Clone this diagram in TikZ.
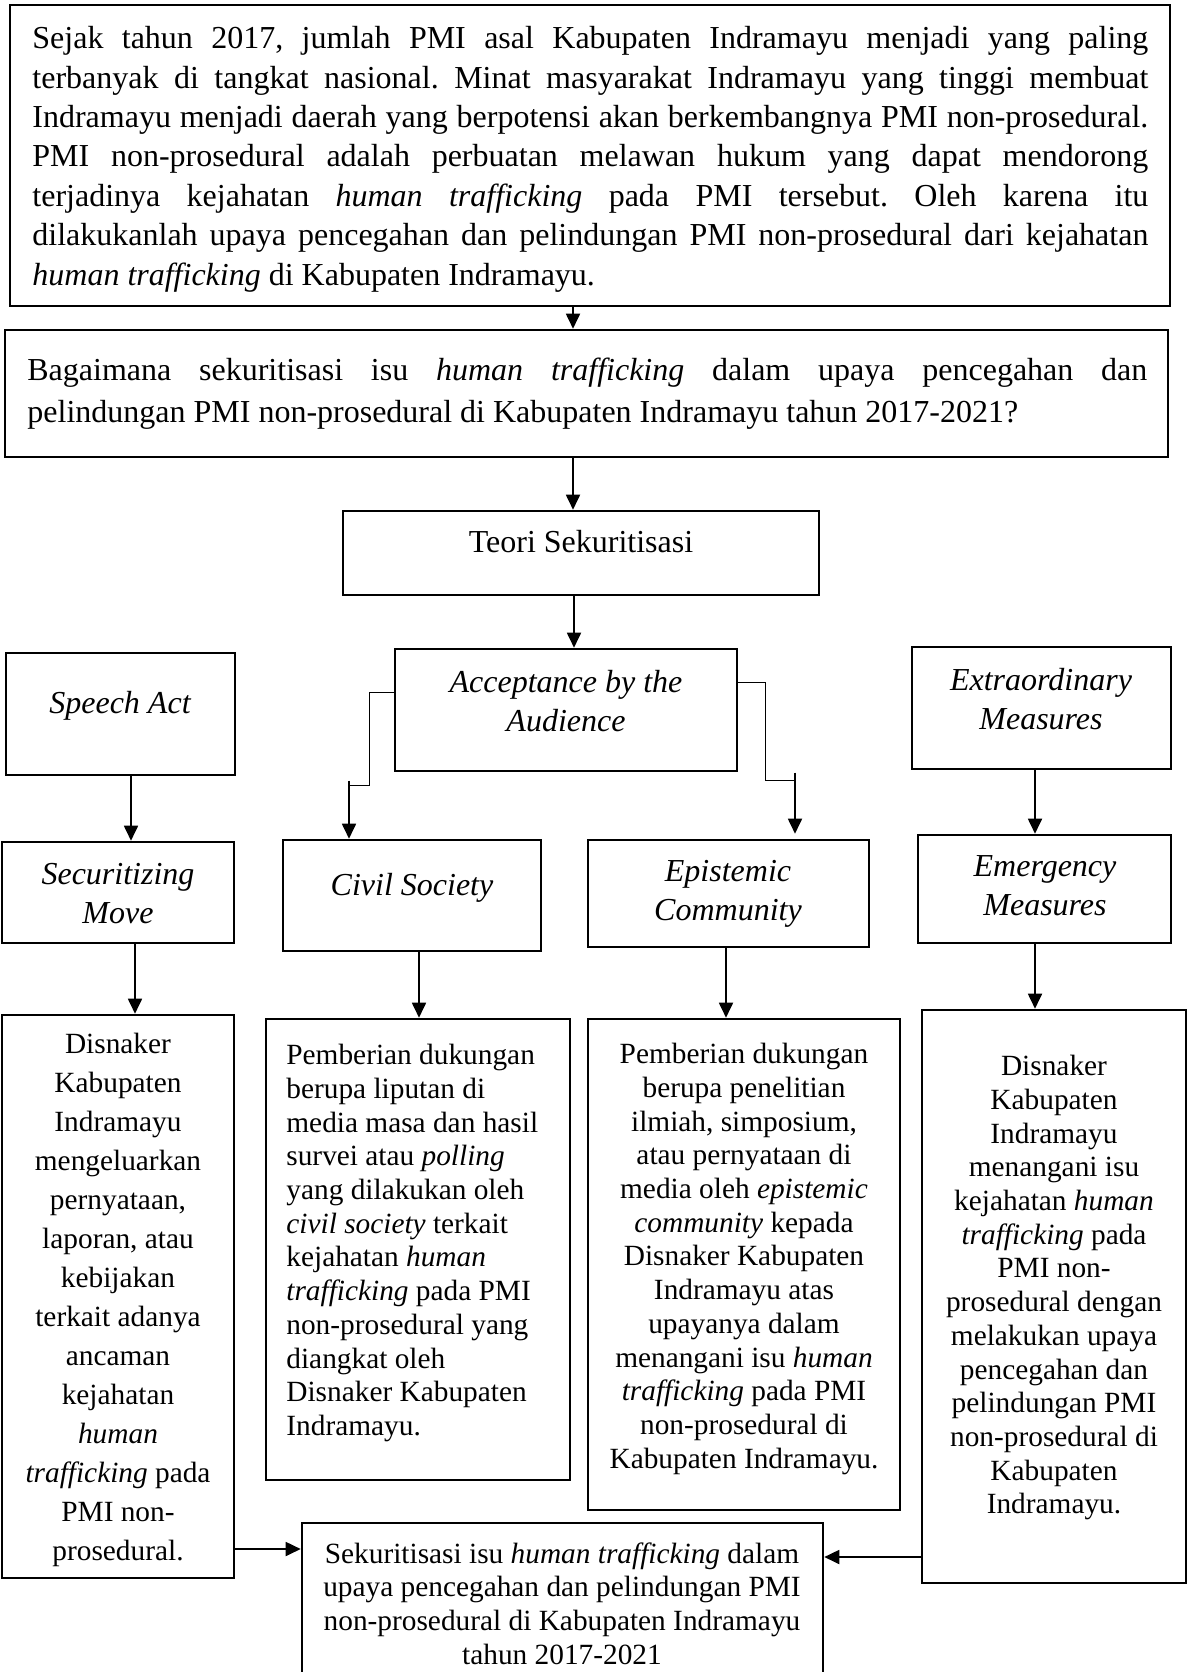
\documentclass[tikz,border=0pt]{standalone}
\usepackage{fontspec}
\setmainfont{Liberation Serif}
\usetikzlibrary{fit,arrows.meta}
\newcommand\jl[1]{\makebox[558pt][s]{#1}}
\newcommand\jlb[1]{\makebox[560pt][s]{#1}}
\frenchspacing
\begin{document}
\begin{tikzpicture}[x=0.5pt,y=-0.5pt,
  bx/.style={draw, line width=1.3pt, inner sep=0pt},
  arr/.style={line width=0.9pt, -{Triangle[length=7.5pt,width=7pt]}},
  thinl/.style={line width=0.45pt},
  T/.style={inner sep=0pt, font=\fontsize{16}{19.7}\selectfont},
  TB/.style={inner sep=0pt, font=\fontsize{16}{20.85}\selectfont},
  TI/.style={inner sep=0pt, font=\fontsize{16}{19.5}\selectfont\itshape},
  SL/.style={inner sep=0pt, font=\fontsize{14.67}{19.5}\selectfont},
  S/.style={inner sep=0pt, font=\fontsize{14.67}{16.85}\selectfont},
]
\clip (0,0) rectangle (1194,1672);
\fill[white] (0,0) rectangle (1194,1672);

% boxes
\node[bx, fit={(10,5) (1170,306)}] (b1) {};
\node[bx, fit={(5,330) (1168,457)}] (b2) {};
\node[bx, fit={(343,511) (819,595)}] (teo) {};
\node[bx, fit={(395,649) (737,771)}] (acc) {};
\node[bx, fit={(6,653) (235,775)}] (sp) {};
\node[bx, fit={(912,647) (1171,769)}] (ex) {};
\node[bx, fit={(2,842) (234,943)}] (sec) {};
\node[bx, fit={(283,840) (541,951)}] (civ) {};
\node[bx, fit={(588,840) (869,947)}] (epi) {};
\node[bx, fit={(918,835) (1171,943)}] (em) {};
\node[bx, fit={(2,1015) (234,1578)}] (dl) {};
\node[bx, fit={(266,1019) (570,1480)}] (ct) {};
\node[bx, fit={(588,1019) (900,1510)}] (et) {};
\node[bx, fit={(922,1010) (1186,1583)}] (emt) {};
\node[bx, fit={(302,1523) (823,1700)}] (fin) {};

% texts
\node[T, anchor=north west, align=left] (t1) at (32,26) {%
\jl{Sejak tahun 2017, jumlah PMI asal Kabupaten Indramayu menjadi yang paling}\\
\jl{terbanyak di tangkat nasional. Minat masyarakat Indramayu yang tinggi membuat}\\
\jl{Indramayu menjadi daerah yang berpotensi akan berkembangnya PMI non-prosedural.}\\
\jl{PMI non-prosedural adalah perbuatan melawan hukum yang dapat mendorong}\\
\jl{terjadinya kejahatan \textit{human trafficking} pada PMI tersebut. Oleh karena itu}\\
\jl{dilakukanlah upaya pencegahan dan pelindungan PMI non-prosedural dari kejahatan}\\
\textit{human trafficking} di Kabupaten Indramayu.};

\node[TB, anchor=north west, align=left] (t2) at (27,358) {%
\jlb{Bagaimana sekuritisasi isu \textit{human trafficking} dalam upaya pencegahan dan}\\
pelindungan PMI non-prosedural di Kabupaten Indramayu tahun 2017-2021?};

\node[T, anchor=north] (tteo) at (581,530) {Teori Sekuritisasi};
\node[TI, anchor=north, align=center] (tacc) at (566,670) {Acceptance by the\\Audience};
\node[TI, anchor=north, align=center] (tsp) at (120,691) {Speech Act};
\node[TI, anchor=north, align=center] (tex) at (1041,668) {Extraordinary\\Measures};
\node[TI, anchor=north, align=center] (tsec) at (118,863) {Securitizing\\Move};
\node[TI, anchor=north, align=center] (tciv) at (412,873) {Civil Society};
\node[TI, anchor=north, align=center] (tepi) at (728,860) {Epistemic\\Community};
\node[TI, anchor=north, align=center] (tem) at (1045,855) {Emergency\\Measures};

\node[SL, anchor=north, align=center] (tdl) at (118,1033) {Disnaker\\Kabupaten\\Indramayu\\mengeluarkan\\pernyataan,\\laporan, atau\\kebijakan\\terkait adanya\\ancaman\\kejahatan\\\textit{human}\\\textit{trafficking} pada\\PMI non-\\prosedural.};

\node[S, anchor=north west, align=left] (tct) at (286,1044) {Pemberian dukungan\\berupa liputan di\\media masa dan hasil\\survei atau \textit{polling}\\yang dilakukan oleh\\\textit{civil society} terkait\\kejahatan \textit{human}\\\textit{trafficking} pada PMI\\non-prosedural yang\\diangkat oleh\\Disnaker Kabupaten\\Indramayu.};

\node[S, anchor=north, align=center] (tet) at (744,1043) {Pemberian dukungan\\berupa penelitian\\ilmiah, simposium,\\atau pernyataan di\\media oleh \textit{epistemic}\\\textit{community} kepada\\Disnaker Kabupaten\\Indramayu atas\\upayanya dalam\\menangani isu \textit{human}\\\textit{trafficking} pada PMI\\non-prosedural di\\Kabupaten Indramayu.};

\node[S, anchor=north, align=center] (temt) at (1054,1055) {Disnaker\\Kabupaten\\Indramayu\\menangani isu\\kejahatan \textit{human}\\\textit{trafficking} pada\\PMI non-\\prosedural dengan\\melakukan upaya\\pencegahan dan\\pelindungan PMI\\non-prosedural di\\Kabupaten\\Indramayu.};

\node[S, anchor=north, align=center] (tfin) at (562,1542) {Sekuritisasi isu \textit{human trafficking} dalam\\upaya pencegahan dan pelindungan PMI\\non-prosedural di Kabupaten Indramayu\\tahun 2017-2021};

% connectors
\draw[arr] ([xshift=-8.5pt]b1.south) -- ([xshift=-8.5pt]b1.south |- b2.north);
\draw[arr] ([xshift=-6.75pt]b2.south) -- ([xshift=-6.75pt]b2.south |- teo.north);
\draw[arr] ([xshift=-3.5pt]teo.south) -- ([xshift=-3.5pt]teo.south |- acc.north);
\draw[arr] ([xshift=5.25pt]sp.south) -- ([xshift=5.25pt]sp.south |- sec.north);
\draw[arr] ([xshift=-3.25pt]ex.south) -- ([xshift=-3.25pt]ex.south |- em.north);
\draw[arr] ([xshift=8.5pt]sec.south) -- ([xshift=8.5pt]sec.south |- dl.north);
\draw[arr] ([xshift=3.5pt]civ.south) -- ([xshift=3.5pt]civ.south |- ct.north);
\draw[arr] ([xshift=-1.25pt]epi.south) -- ([xshift=-1.25pt]epi.south |- et.north);
\draw[arr] ([xshift=-4.75pt]em.south) -- ([xshift=-4.75pt]em.south |- emt.north);

% elbows from acceptance
\draw[thinl] ([yshift=9pt]acc.west) -- ++(-24,0) |- ([xshift=-31.5pt,yshift=26.5pt]civ.north);
\draw[arr] ([xshift=-31.5pt,yshift=29pt]civ.north) -- ([xshift=-31.5pt]civ.north);
\draw[thinl] ([yshift=14pt]acc.east) -- ++(27,0) |- ([xshift=33.25pt,yshift=29pt]epi.north);
\draw[arr] ([xshift=33.25pt,yshift=33pt]epi.north) -- ([xshift=33.25pt,yshift=2.5pt]epi.north);

% to final box
\draw[arr] ([yshift=-126.25pt]dl.east) -- ([yshift=-126.25pt]dl.east -| fin.west);
\draw[arr] ([yshift=-130.25pt]emt.west) -- ([yshift=-130.25pt]emt.west -| fin.east);
\end{tikzpicture}
\end{document}
